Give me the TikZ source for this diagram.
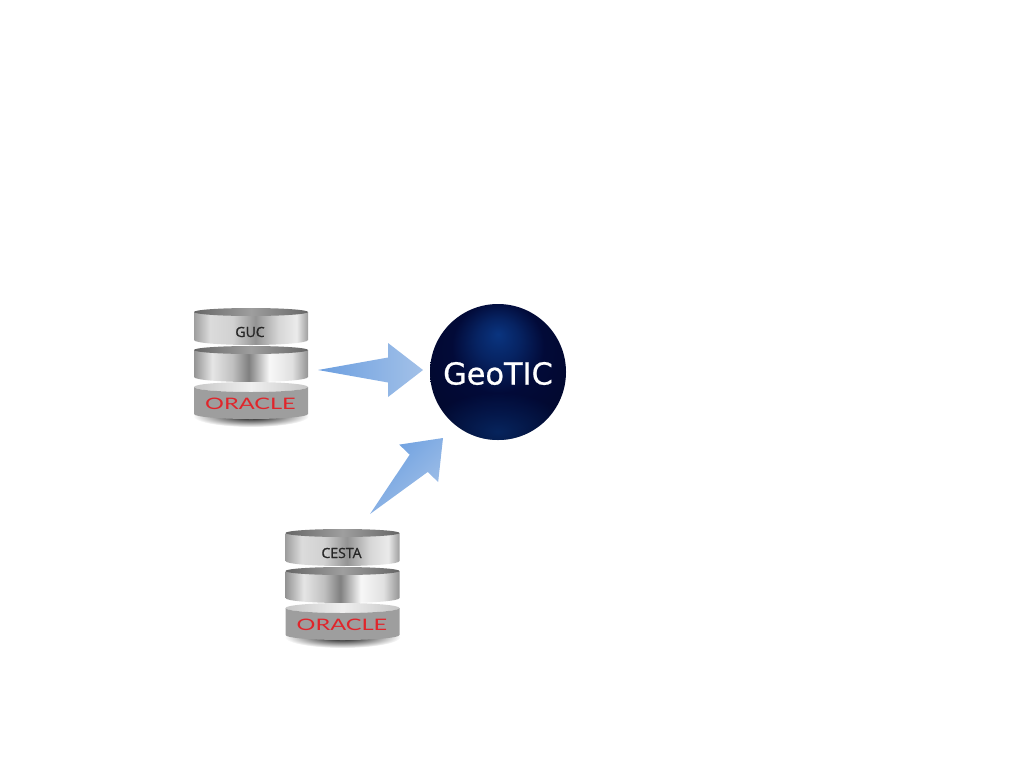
\documentclass[tikz,border=0pt]{standalone}
\usepackage{fontspec}
\setmainfont{DejaVu Sans}
\newfontfamily\globefont[FakeBold=0.7]{DejaVu Sans}
\newfontfamily\labelfont[FakeBold=1.0]{Open Sans}
\newfontfamily\logofont{Lato}
\usetikzlibrary{calc, fadings}

\definecolor{oraclered}{HTML}{E0252B}
\definecolor{arrowpale}{HTML}{A3C1E8}
\definecolor{arrowdeep}{HTML}{6C9FE0}
\definecolor{globenavy}{HTML}{020A38}
\definecolor{globeblue}{HTML}{0B3C8C}

\pgfdeclarehorizontalshading{metaltop}{100bp}{color(0bp)=(black!38); color(25bp)=(black!38); color(32bp)=(black!14); color(42bp)=(black!18); color(52bp)=(black!42); color(62bp)=(black!16); color(70bp)=(black!8); color(75bp)=(black!38); color(100bp)=(black!38)}
\pgfdeclarehorizontalshading{metallow}{100bp}{color(0bp)=(black!42); color(25bp)=(black!42); color(33bp)=(black!10); color(42bp)=(black!25); color(49bp)=(black!50); color(58bp)=(black!3); color(68bp)=(black!12); color(75bp)=(black!42); color(100bp)=(black!42)}
\pgfdeclarehorizontalshading{lidshade}{100bp}{color(0bp)=(black!60); color(25bp)=(black!60); color(50bp)=(black!38); color(75bp)=(black!60); color(100bp)=(black!60)}
\pgfdeclarehorizontalshading{baselid}{100bp}{color(0bp)=(black!22); color(25bp)=(black!22); color(50bp)=(black!6); color(75bp)=(black!22); color(100bp)=(black!22)}
\pgfdeclareradialshading{globeshade}{\pgfpoint{0bp}{14bp}}{color(0bp)=(globeblue!85!globenavy); color(8bp)=(globeblue!50!globenavy); color(17bp)=(globenavy); color(28bp)=(globenavy!85!black); color(39bp)=(globenavy!35!black); color(50bp)=(black)}
\tikzfading[name=softglow, inner color=transparent!30, outer color=transparent!100]

\tikzstyle{fatarrow} = [left color=arrowdeep, right color=arrowpale]
\tikzstyle{dblabel} = [inner sep=0pt, font=\labelfont\fontsize{8}{9}\selectfont, text=black!85]
\tikzstyle{dblogo} = [inner sep=0pt, font=\logofont\fontsize{9}{10}\selectfont, text=oraclered]
\tikzstyle{globe} = [circle, minimum size=2.72cm, inner sep=0pt, text=white, font=\globefont\fontsize{17.3}{20}\selectfont]

% one disc of a stack: top, bottom, shading
\newcommand{\dbdisc}[3]{
  \shade [shading=#3] (-57,#1) -- (-57,#2) arc [start angle=180, end angle=0, x radius=57, y radius=5] -- (57,#1) -- cycle;
  \shade [shading=lidshade] (0,#1) ellipse [x radius=57, y radius=4];
}
% whole stack: name, centre x, top y, label
\newcommand{\dbstack}[4]{
  \begin{scope}[shift={(#2,#3)}]
    \shade [inner color=black!100, outer color=white] (0,108) ellipse [x radius=58, y radius=11];
    \dbdisc{4}{32}{metaltop}
    \dbdisc{42}{69}{metallow}
    % oracle base
    \shade [shading=baselid] (0,79) ellipse [x radius=57, y radius=5];
    \fill [black!38] (-57,79) arc [start angle=180, end angle=0, x radius=57, y radius=5] -- (57,106) arc [start angle=0, end angle=180, x radius=57, y radius=5] -- cycle;
    \node (#1) [dblabel] at (-1,24) {#4};
    \node (#1-logo) [dblogo] at (-0.5,95.5) {\scalebox{1.49}[1]{ORACLE}};
  \end{scope}
}
% tapered arrow from tail to tip
\newcommand{\fatarrowto}[3]{
  \coordinate (neck) at ($(#1)!0.667!(#2)$);
  \shade [fatarrow, shading angle=#3] (#1)
    -- ($(neck)!12.5*0.02cm!90:(#2)$) -- ($(neck)!27*0.02cm!90:(#2)$)
    -- (#2)
    -- ($(neck)!27*0.02cm!-90:(#2)$) -- ($(neck)!12.5*0.02cm!-90:(#2)$) -- cycle;
}

\begin{document}
\begin{tikzpicture}[x=0.02cm, y=-0.02cm]
  \useasboundingbox (0,0) rectangle (1024,768);

  \dbstack{guc}{251}{308}{GUC}
  \dbstack{cesta}{342.5}{529}{CESTA}

  % globe
  \begin{scope}
    \clip (498,372) circle [radius=68];
    \shade [shading=globeshade] (498,372) circle [radius=68];
    \fill [globeblue!80!black, path fading=softglow] (498,432) ellipse [x radius=72, y radius=40];
  \end{scope}
  \node (geotic) [globe] at (498,373.5) {GeoTIC};

  \coordinate (guc-out) at (318,370);
  \coordinate (guc-in) at (423,370);
  \coordinate (cesta-out) at (370,514);
  \coordinate (cesta-in) at (443,438);
  \fatarrowto{guc-out}{guc-in}{90}
  \fatarrowto{cesta-out}{cesta-in}{45}
\end{tikzpicture}
\end{document}
